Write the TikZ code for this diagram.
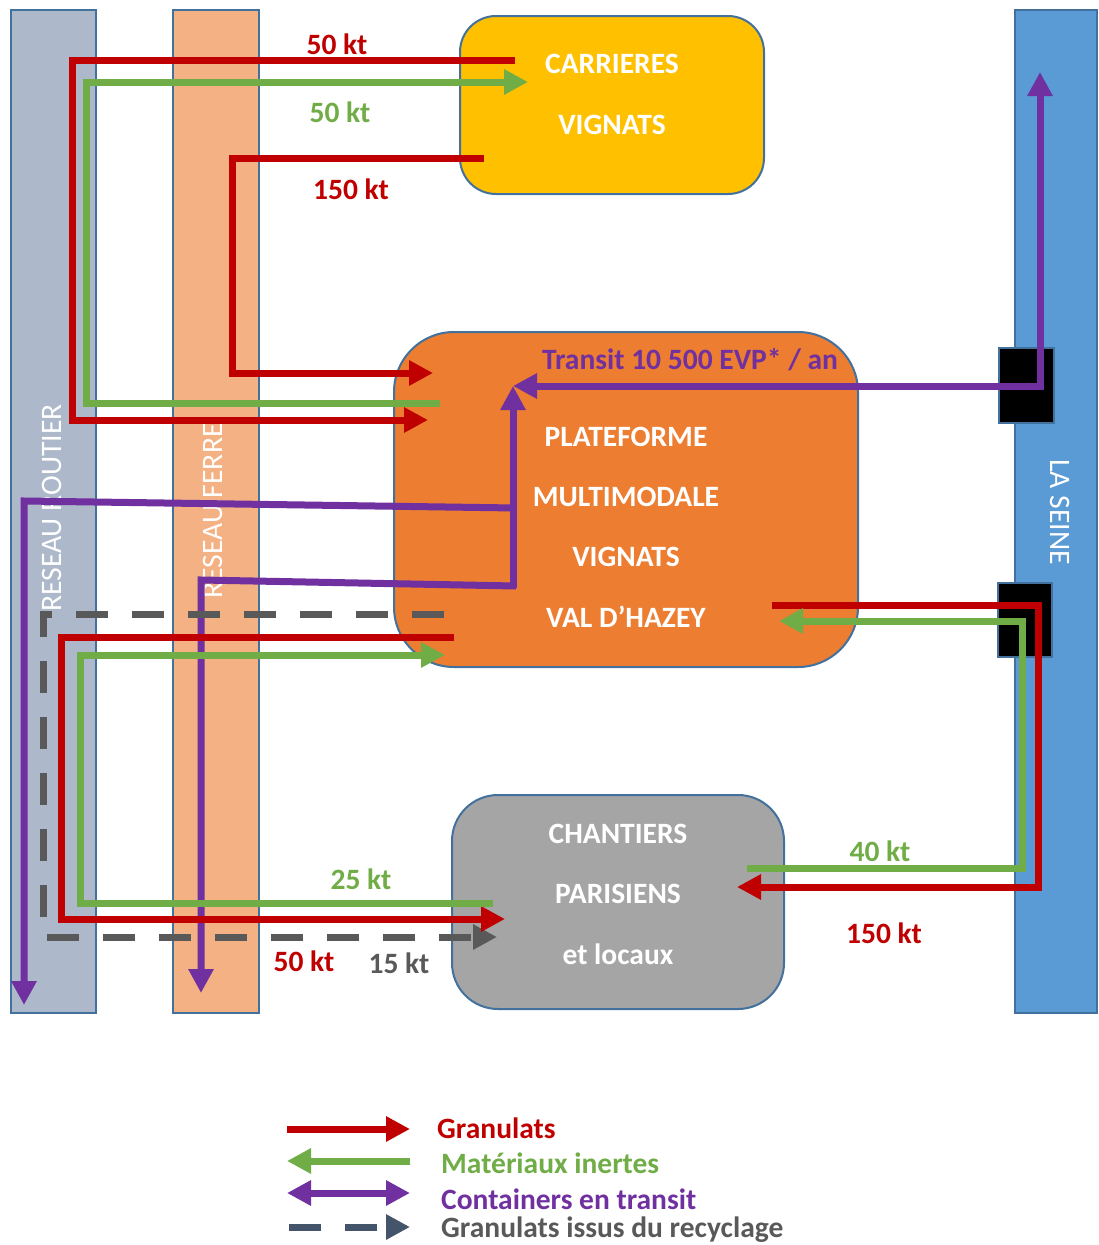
\documentclass[tikz,border=0pt]{standalone}
\usepackage{fontspec}
\setmainfont{Carlito}
\usetikzlibrary{arrows.meta}
\definecolor{cred}{HTML}{C00000}
\definecolor{cgreen}{HTML}{70AD47}
\definecolor{cpurple}{HTML}{7030A0}
\definecolor{cdash}{HTML}{595959}
\definecolor{cleg}{HTML}{44546A}
\definecolor{cborder}{HTML}{41719C}
\definecolor{croutier}{HTML}{ADB9CA}
\definecolor{cferre}{HTML}{F4B183}
\definecolor{cseine}{HTML}{5B9BD5}
\definecolor{ccarr}{HTML}{FFC000}
\definecolor{cplat}{HTML}{ED7D31}
\definecolor{cchan}{HTML}{A5A5A5}
\begin{document}
\begin{tikzpicture}[x=1pt,y=-1pt,
  bar/.style={draw=cborder,line width=1.5pt},
  site/.style={draw=cborder,line width=2pt},
  flow/.style={line width=7pt},
  endtip/.style={-{Triangle[length=24pt,width=24pt]}},
  bothtips/.style={{Triangle[length=24pt,width=24pt]}-{Triangle[length=24pt,width=24pt]}},
  dashflow/.style={line width=7pt,dash pattern=on 32pt off 24pt},
  boxtext/.style={text=white,font=\fontsize{29.5}{34}\selectfont\bfseries,inner sep=0pt},
  lab/.style={font=\fontsize{29.5}{34}\selectfont\bfseries,inner sep=0pt},
  bartext/.style={text=white,font=\fontsize{29.7}{34}\selectfont,inner sep=0pt},
  legtext/.style={font=\fontsize{29.5}{34}\selectfont\bfseries,inner sep=0pt,anchor=west}]
\useasboundingbox (0,0) rectangle (1098,1245);
% bars
\draw[bar,fill=croutier] (11,10) rectangle (96,1013);
\draw[bar,fill=cferre] (173,10) rectangle (259,1013);
\draw[bar,fill=cseine] (1015,10) rectangle (1097,1013);
\node[bartext,rotate=90] (routier) at (52,508) {RESEAU ROUTIER};
\node[bartext,rotate=90] (ferre) at (213,511) {RESEAU FERRE};
\node[bartext,rotate=-90] (seine) at (1060,512) {LA SEINE};
% sites
\node[site,fill=ccarr,rounded corners=36pt,minimum width=304pt,minimum height=178pt] (carr) at (612,105) {};
\node[site,fill=cplat,rounded corners=60pt,minimum width=464pt,minimum height=335pt] (plat) at (626,499.5) {};
\node[site,fill=cchan,rounded corners=46pt,minimum width=332pt,minimum height=214pt] (chan) at (618,902) {};
\node[boxtext] (c1) at (612,64) {CARRIERES};
\node[boxtext] (c2) at (612,125) {VIGNATS};
\node[boxtext] (p1) at (626,437) {PLATEFORME};
\node[boxtext] (p2) at (626,497) {MULTIMODALE};
\node[boxtext] (p3) at (626,557) {VIGNATS};
\node[boxtext] (p4) at (626,617) {VAL D’HAZEY};
\node[boxtext] (h1) at (618,834) {CHANTIERS};
\node[boxtext] (h2) at (618,894) {PARISIENS};
\node[boxtext] (h3) at (618,954) {et locaux};
\node[lab,text=cpurple] (transit) at (690,360) {Transit 10 500 EVP* / an};
% quays
\draw[bar,fill=black] (999,348) rectangle (1054,423);
\draw[bar,fill=black] (998,583) rectangle (1052,657);
% flow labels
\node[lab,text=cred] (l1) at (337,44) {50 kt};
\node[lab,text=cgreen] (l2) at (340,112) {50 kt};
\node[lab,text=cred] (l3) at (351,189) {150 kt};
\node[lab,text=cgreen] (l4) at (361,879) {25 kt};
\node[lab,text=cred] (l5) at (304,961) {50 kt};
\node[lab,text=cdash] (l6) at (399,963) {15 kt};
\node[lab,text=cgreen] (l7) at (880,851) {40 kt};
\node[lab,text=cred] (l8) at (884,933) {150 kt};
% flows top
\draw[flow,cred,endtip] (515,60) -- (72,60) -- (72,420) -- (428,420);
\draw[flow,cgreen,endtip] (440,403) -- (86,403) -- (86,82) -- (528,82);
\draw[flow,cred,endtip] (484,158) -- (232,158) -- (232,373) -- (433,373);
% containers
\draw[flow,cpurple,bothtips] (513,386) -- (1040,386) -- (1040,72);
\draw[flow,cpurple,endtip] (513,588) -- (513,386);
\draw[flow,cpurple,endtip] (516,508) -- (24,501) -- (24,1005);
\draw[flow,cpurple,endtip] (516,586) -- (201,580) -- (201,993);
% flows bottom
\draw[dashflow,cdash,endtip] (444,614) -- (43,614) -- (43,937) -- (497,937);
\draw[flow,cred,endtip] (454,637) -- (61,637) -- (61,919) -- (505,919);
\draw[flow,cgreen,endtip] (493,903) -- (80,903) -- (80,655) -- (445,655);
% seine flows
\draw[flow,cred,endtip] (772,605) -- (1038,605) -- (1038,887) -- (737,887);
\draw[flow,cgreen,endtip] (747,868) -- (1022,868) -- (1022,621) -- (779,621);
% legend
\draw[flow,cred,endtip] (287,1129) -- (410,1129);
\draw[flow,cgreen,endtip] (410,1161) -- (287,1161);
\draw[flow,cpurple,bothtips] (287,1193) -- (410,1193);
\draw[dashflow,cleg,endtip] (289,1227) -- (410,1227);
\node[legtext,text=cred] (g1) at (437,1128) {Granulats};
\node[legtext,text=cgreen] (g2) at (441,1163) {Matériaux inertes};
\node[legtext,text=cpurple] (g3) at (441,1199) {Containers en transit};
\node[legtext,text=cdash] (g4) at (441,1230) {Granulats issus du recyclage};
\end{tikzpicture}
\end{document}
